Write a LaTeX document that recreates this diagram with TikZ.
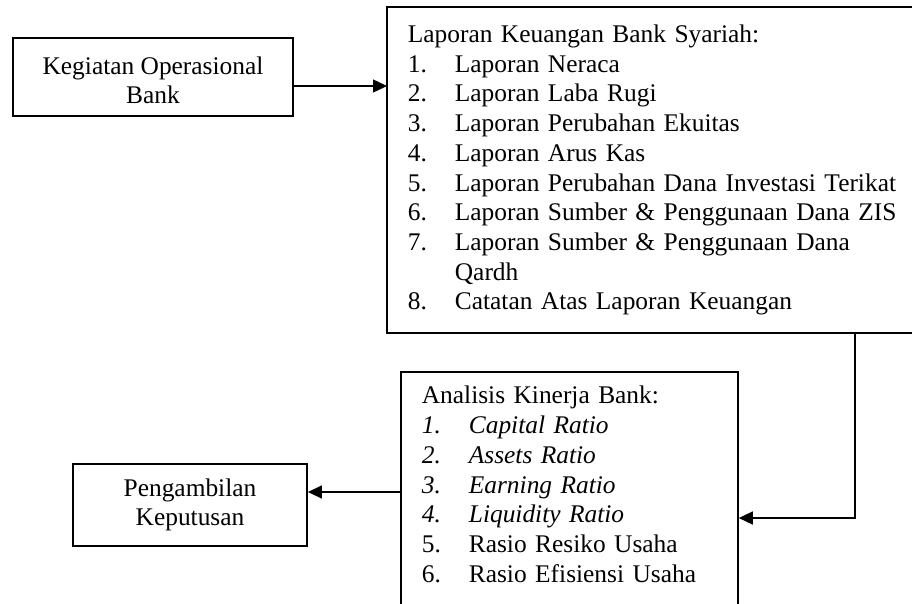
\documentclass[tikz,border=0pt]{standalone}
\usepackage{fontspec}
\setmainfont{Liberation Serif}
\usepackage{tikz}
\usetikzlibrary{calc,arrows.meta}

\newcommand{\itm}[2]{\makebox[47pt][l]{#1}#2}

\begin{document}
\begin{tikzpicture}[x=1pt,y=-1pt,
  box/.style={draw, line width=1.8pt, font=\fontsize{25.4}{29.7}\selectfont},
  openbox/.style={box, draw=none},
  conn/.style={line width=1.4pt, -{Triangle[length=14pt,width=13pt]}}]

\useasboundingbox (0,0) rectangle (912,603);

\node (kegiatan) at (153,77) [box, minimum width=280pt, minimum height=78pt, text height=54pt, align=center] {Kegiatan Operasional\\Bank};

\node (laporan) at (387,7) [openbox, anchor=north west, inner xsep=20pt, inner ysep=17pt, text width=700pt, align=left]
{Laporan Keuangan Bank Syariah:\\
\itm{1.}{Laporan Neraca}\\
\itm{2.}{Laporan Laba Rugi}\\
\itm{3.}{Laporan Perubahan Ekuitas}\\
\itm{4.}{Laporan Arus Kas}\\
\itm{5.}{Laporan Perubahan Dana Investasi Terikat}\\
\itm{6.}{Laporan Sumber \& Penggunaan Dana ZIS}\\
\itm{7.}{Laporan Sumber \& Penggunaan Dana}\\
\itm{}{Qardh}\\
\itm{8.}{Catatan Atas Laporan Keuangan}};
\draw[line width=1.8pt] (laporan.north east) -- (laporan.north west) -- (laporan.south west) -- (laporan.south east);

\node (analisis) at (400,371) [box, anchor=north west, inner xsep=21pt, inner ysep=14.4pt, text width=295pt, text depth=240pt, align=left]
{Analisis Kinerja Bank:\\
\itm{\textit{1.}}{\textit{Capital Ratio}}\\
\itm{\textit{2.}}{\textit{Assets Ratio}}\\
\itm{\textit{3.}}{\textit{Earning Ratio}}\\
\itm{\textit{4.}}{\textit{Liquidity Ratio}}\\
\itm{5.}{Rasio Resiko Usaha}\\
\itm{6.}{Rasio Efisiensi Usaha}};

\node (keputusan) at (190,505) [box, minimum width=234pt, minimum height=82pt, align=center] {Pengambilan\\Keputusan};

\coordinate (turn) at (855,518);

\draw[conn] ([yshift=-9pt]kegiatan.east) -- ([yshift=-9pt]kegiatan.east -| laporan.west);
\draw[conn] (laporan.south -| turn) |- (analisis.east |- turn);
\draw[conn] ([yshift=13pt]keputusan.east -| analisis.west) -- ([yshift=13pt]keputusan.east);

\end{tikzpicture}
\end{document}
